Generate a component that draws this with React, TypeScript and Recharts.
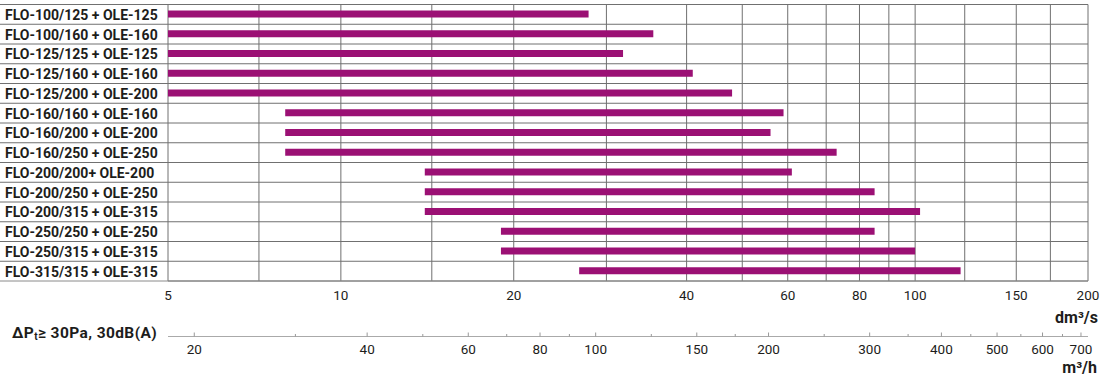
import React from "react";
import { BarChart, Bar, XAxis, YAxis, CartesianGrid } from "recharts";

// fan / silencer combinations, top to bottom
const models = [
  "FLO-100/125 + OLE-125",
  "FLO-100/160 + OLE-160",
  "FLO-125/125 + OLE-125",
  "FLO-125/160 + OLE-160",
  "FLO-125/200 + OLE-200",
  "FLO-160/160 + OLE-160",
  "FLO-160/200 + OLE-200",
  "FLO-160/250 + OLE-250",
  "FLO-200/200+ OLE-200",
  "FLO-200/250 + OLE-250",
  "FLO-200/315 + OLE-315",
  "FLO-250/250 + OLE-250",
  "FLO-250/315 + OLE-315",
  "FLO-315/315 + OLE-315",
];

// airflow range in dm³/s
const minFlow = [5, 5, 5, 5, 5, 8, 8, 8, 14, 14, 14, 19, 19, 26];
const maxFlow = [27, 35, 31, 41, 48, 59, 56, 73, 61, 85, 102, 85, 100, 120];

const dmTicks = [5, 7.2, 10, 14.4, 20, 29, 40, 50, 60, 70, 80, 90, 100, 122, 150, 172, 200];
const dmLabels = [5, 10, 20, 40, 60, 80, 100, 150, 200];
const mhTicks = [20, 30, 40, 50, 60, 70, 80, 90, 100, 125, 150, 175, 200, 250, 300, 350, 400, 450, 500, 550, 600, 650, 700];
const mhLabels = [20, 40, 60, 80, 100, 150, 200, 300, 400, 500, 600, 700];

const data = models.map((name, i) => ({ name, range: [minFlow[i], maxFlow[i]] }));

const W = 1110;
const H = 387;
const TOP = 4.5;
const PLOT_H = 276.5;
const ROW_H = PLOT_H / models.length;
const LABEL_W = 168;

const BAR = "#9b1074";
const GRID = "#707070";
const TEXT = "#1d1d1b";
const FONT = "Roboto, 'DejaVu Sans', sans-serif";

const ModelTick = (props: any) => {
  const { y, payload, index } = props;
  const last = index === models.length - 1;
  return (
    <g>
      <line x1={0} x2={LABEL_W} y1={y - ROW_H / 2} y2={y - ROW_H / 2} stroke={GRID} />
      {last && <line x1={0} x2={LABEL_W} y1={y + ROW_H / 2} y2={y + ROW_H / 2} stroke="#8a8a8a" />}
      <text x={5} y={y + 0.5} dominantBaseline="central" fontFamily={FONT} fontWeight={700} fontSize={14} fill={TEXT}>
        {payload.value}
      </text>
    </g>
  );
};

const DmTick = (props: any) => {
  const { x, y, payload } = props;
  if (!dmLabels.includes(payload.value)) return <g />;
  return (
    <text x={x} y={y + 13.5} textAnchor="middle" dominantBaseline="central" fontFamily={FONT} fontSize={13.5} fill={TEXT}>
      {payload.value}
    </text>
  );
};

const MhTick = (props: any) => {
  const { x, y, payload } = props;
  const major = mhLabels.includes(payload.value);
  return (
    <g>
      <line x1={x} x2={x} y1={y - (major ? 4 : 2.5)} y2={y} stroke="#999" />
      {major && (
        <text x={x} y={y + 12.5} textAnchor="middle" dominantBaseline="central" fontFamily={FONT} fontSize={13.5} fill={TEXT}>
          {payload.value}
        </text>
      )}
    </g>
  );
};

const dmUnit = (props: any) => {
  const vb = props.viewBox || {};
  return (
    <text x={vb.x + vb.width + 10} y={vb.y + 36} textAnchor="end" dominantBaseline="central" fontFamily={FONT} fontWeight={700} fontSize={16} fill={TEXT}>
      dm³/s
    </text>
  );
};

const mhUnit = (props: any) => {
  const vb = props.viewBox || {};
  return (
    <g>
      <text
        x={vb.x - 156}
        y={vb.y - 3.5}
        dominantBaseline="central"
        fontFamily={FONT}
        fontWeight={700}
        fontSize={15.5}
        letterSpacing={0.4}
        fill={TEXT}
      >
        ΔP
        <tspan fontSize={10} dy={3}>t</tspan>
        <tspan dy={-3}>≥ 30Pa, 30dB(A)</tspan>
      </text>
      <text x={vb.x + vb.width + 9} y={vb.y + 31} textAnchor="end" dominantBaseline="central" fontFamily={FONT} fontWeight={700} fontSize={16} fill={TEXT}>
        m³/h
      </text>
    </g>
  );
};

export default function App() {
  return (
    <div style={{ position: "absolute", left: 0, top: 0, width: W, height: H, background: "#fff" }}>
      <BarChart
        width={W}
        height={H}
        data={data}
        layout="vertical"
        margin={{ top: TOP, right: 22, bottom: 0, left: 0 }}
        barCategoryGap={0}
      >
        <CartesianGrid
          xAxisId="dm"
          stroke={GRID}
          horizontalCoordinatesGenerator={({ offset }: any) =>
            models.map((_, i) => offset.top + i * (offset.height / models.length)).concat(offset.top + offset.height)
          }
        />
        <XAxis
          xAxisId="dm"
          type="number"
          scale="log"
          domain={[5, 200]}
          ticks={dmTicks}
          interval={0}
          allowDataOverflow
          tickLine={false}
          tickSize={0}
          tickMargin={0}
          axisLine={{ stroke: "#8a8a8a" }}
          height={55.5}
          tick={<DmTick />}
          label={dmUnit}
        />
        <XAxis
          xAxisId="mh"
          type="number"
          scale="log"
          domain={[18, 720]}
          ticks={mhTicks}
          interval={0}
          allowDataOverflow
          tickLine={false}
          tickSize={0}
          tickMargin={0}
          axisLine={{ stroke: "#aaa" }}
          height={50.5}
          tick={<MhTick />}
          label={mhUnit}
        />
        <YAxis
          type="category"
          dataKey="name"
          width={LABEL_W}
          interval={0}
          tickLine={false}
          axisLine={false}
          tick={<ModelTick />}
        />
        <Bar xAxisId="dm" dataKey="range" fill={BAR} barSize={7} isAnimationActive={false} />
      </BarChart>
    </div>
  );
}
